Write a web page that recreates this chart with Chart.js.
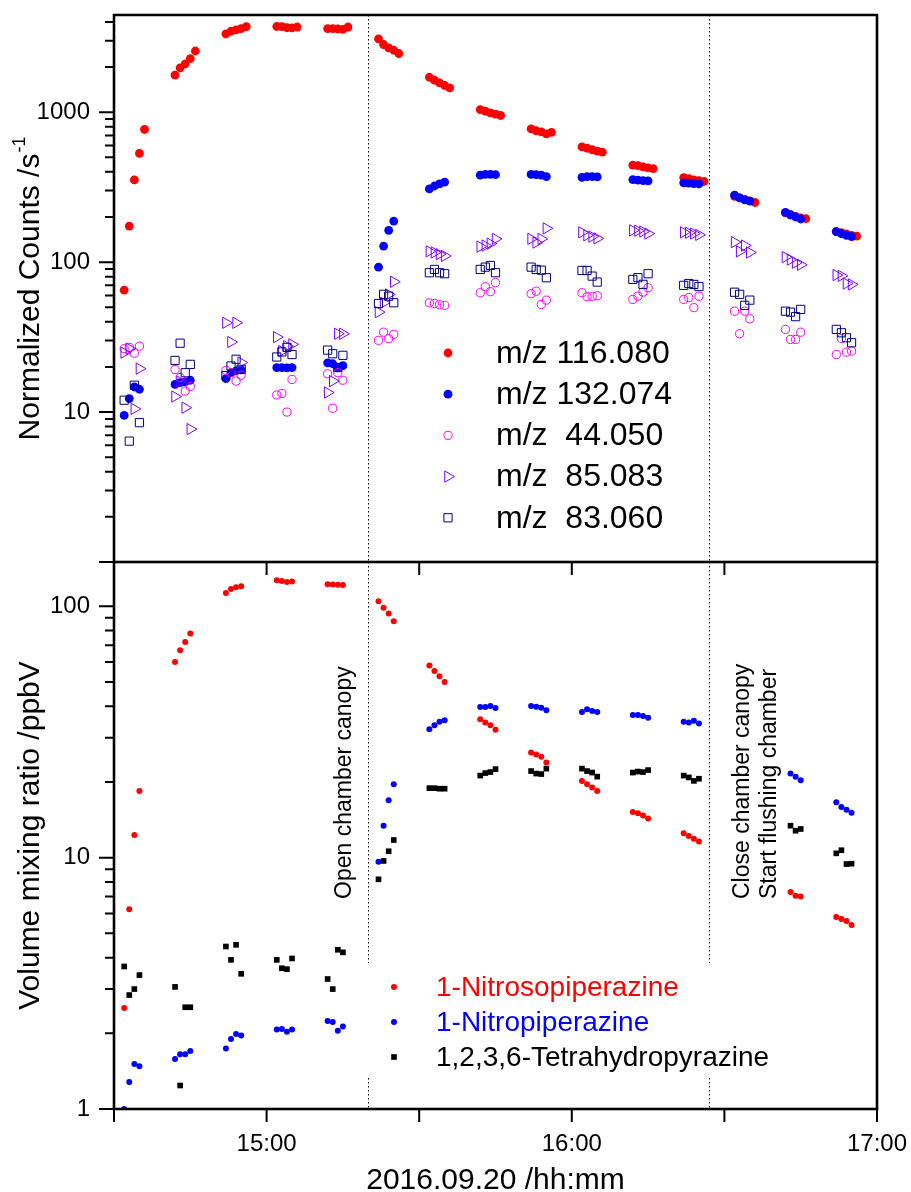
<!DOCTYPE html>
<html lang="en">
<head>
<meta charset="UTF-8">
<title>Chamber experiment 2016.09.20</title>
<style>
    body { margin: 0; background: #fff; }
    #wrap { position: relative; width: 911px; height: 1192px; }
    #wrap canvas { position: absolute; left: 0; top: 0; }
</style>
</head>
<body>
<div id="wrap">
    <canvas id="bottomChart" width="911" height="1192"></canvas>
    <canvas id="topChart" width="911" height="1192"></canvas>
</div>

<script src="https://cdn.jsdelivr.net/npm/chart.js"></script>
<script>
// ---- data ----
const timeStart = '14:30';
const timeEnd = '17:00';
const xTickTimes = ['14:30', '15:00', '15:30', '16:00', '16:30', '17:00'];
const xLabelTimes = ['15:00', '16:00', '17:00'];
const openCanopy = '15:20';
const closeCanopy = '16:27';

const topYLabels = [10, 100, 1000];
const bottomYLabels = [1, 10, 100];

// one reading per minute, each group starts at these times
const topGroupStarts = ['14:32', '14:42', '14:52', '15:02', '15:12', '15:22', '15:32', '15:42',
                        '15:52', '16:02', '16:12', '16:22', '16:32', '16:42', '16:52'];
const bottomGroupStarts = ['14:32', '14:42', '14:52', '15:02', '15:12', '15:22', '15:32', '15:42',
                           '15:52', '16:02', '16:12', '16:22', '16:43', '16:52'];

// top panel, normalized counts /s
const mz116 = [
    [65, 174, 354, 531, 767],
    [1766, 1977, 2103, 2280, 2560],
    [3334, 3467, 3542, 3615, 3727],
    [3730, 3720, 3660, 3650, 3700],
    [3615, 3615, 3590, 3570, 3700],
    [3087, 2828, 2687, 2590, 2463],
    [1711, 1634, 1570, 1507, 1454],
    [1042, 1015, 990, 970, 951],
    [775, 752, 740, 718, 733],
    [588, 575, 562, 550, 541],
    [443, 440, 432, 425, 420],
    [366, 360, 354, 349, 345],
    [275, 268, 262, 256, 250],
    [213, 207, 202, 197, 195],
    [160, 157, 154, 151, 149]
];
const mz132 = [
    [9.5, 12.3, 14.7, 14.2],
    [15.3, 15.7, 15.9, 16.3],
    [16.7, 18.3, 18.8, 19.1],
    [19.8, 19.8, 19.7, 19.8],
    [21.3, 21.0, 19.8, 20.4],
    [92.6, 128, 163, 188],
    [308, 322, 333, 342],
    [380, 385, 385, 383],
    [385, 383, 380, 372],
    [368, 372, 372, 370],
    [355, 352, 350, 348],
    [338, 336, 334, 333],
    [280, 268, 260, 255],
    [215, 207, 200, 194],
    [160, 155, 151, 148]
];
const mz44 = [
    [26.5, 27.0, 24.7, 27.5],
    [19.2, 17.0, 13.8, 14.8],
    [19.0, 18.3, 16.1, 17.6],
    [13.0, 13.3, 10.0, 16.5],
    [18.0, 10.6, 18.3, 16.3],
    [30.1, 34.1, 30.9, 33.0],
    [53.5, 53, 52, 51.5],
    [62.5, 68.5, 63.5, 73],
    [61.6, 64, 52.2, 55.8],
    [62.5, 58.8, 59.2, 59.7],
    [56.4, 59.3, 63.1, 67.5],
    [56.4, 58, 49.7, 59.3],
    [47.1, 33.3, 47.1, 41.9],
    [35.6, 30.5, 30.5, 34.1],
    [24.2, 31, 25.1, 25.5]
];
const mz85 = [
    [24.9, 26.5, 10.5, 19.5],
    [12.7, 16.0, 10.7, 7.7],
    [39.4, 29.3, 39.4, 21.4],
    [31.6, 25.5, 27.5, 28.3],
    [13.5, 16.1, 33.3, 33.3],
    [46.4, 53.6, 60.9, 74],
    [118, 116, 113, 110],
    [127, 129, 133, 143],
    [143, 135, 143, 168],
    [158, 151, 148, 144],
    [163, 162, 160, 155],
    [158, 157, 155, 152],
    [136, 118, 129, 116],
    [108, 104, 99, 96],
    [82, 81, 72, 71]
];
const mz83 = [
    [12.0, 6.4, 15.1, 8.5],
    [22.1, 28.8, 18.3, 20.8],
    [17.5, 20.3, 22.5, 19.3],
    [23.3, 25.2, 27.0, 24.2],
    [25.9, 24.5, 19.8, 23.9],
    [53, 61, 59.3, 53.6],
    [85, 89.4, 85, 83.7],
    [89.4, 92.6, 95, 85],
    [92.6, 89.4, 88.4, 78.7],
    [88, 88, 80.7, 73.6],
    [76.7, 78.8, 71.1, 83.7],
    [70, 72, 71, 68.7],
    [63, 61, 51.5, 55.8],
    [47.1, 46.4, 43.3, 48.4],
    [35.6, 33.8, 31.3, 29]
];

// bottom panel, ppbV
const nitrosopiperazine = [
    [2.52, 6.23, 12.3, 18.4],
    [60, 66.8, 72.1, 77.9],
    [113, 117, 119, 120],
    [127, 126, 125, 125.5],
    [122.3, 122, 121.8, 121.5],
    [104.6, 98.7, 93.5, 87.1],
    [58.1, 55.3, 52.7, 50],
    [35.5, 34.5, 33.6, 32.3],
    [26.2, 25.7, 25.2, 23.9],
    [20.2, 19.6, 19.0, 18.4],
    [15.2, 15.0, 14.7, 14.3],
    [12.5, 12.2, 11.9, 11.6],
    [7.3, 7.05, 7.0],
    [5.8, 5.7, 5.6, 5.4]
];
const nitropiperazine = [
    [1.0, 1.28, 1.51, 1.48],
    [1.58, 1.65, 1.65, 1.70],
    [1.74, 1.90, 1.99, 1.96],
    [2.07, 2.08, 2.03, 2.07],
    [2.24, 2.22, 2.05, 2.13],
    [9.63, 13.4, 16.9, 19.6],
    [32.4, 33.6, 34.7, 35.2],
    [39.7, 39.7, 40.1, 39.4],
    [40.1, 39.8, 39.5, 38.6],
    [38.0, 38.9, 38.3, 38.0],
    [36.9, 36.9, 36.6, 36.0],
    [34.7, 34.5, 35.0, 34.2],
    [21.6, 21.0, 20.3],
    [16.6, 15.9, 15.5, 15.1]
];
const tetrahydropyrazine = [
    [3.69, 2.84, 3.0, 3.41],
    [3.06, 1.24, 2.54, 2.54],
    [4.43, 3.92, 4.5, 3.45],
    [3.92, 3.63, 3.6, 3.97],
    [3.29, 3.0, 4.3, 4.2],
    [8.2, 9.7, 10.6, 11.75],
    [18.9, 18.9, 18.8, 18.8],
    [21.2, 21.7, 21.9, 22.5],
    [22.1, 21.6, 21.5, 22.6],
    [22.6, 22.1, 21.8, 21.0],
    [21.8, 22.0, 21.9, 22.3],
    [21.2, 20.85, 20.2, 20.6],
    [13.4, 12.8, 13.0],
    [10.4, 10.7, 9.43, 9.46]
];

const FONT = 'Arial, "Liberation Sans", sans-serif';

function toMinutes(hhmm) {
    const [h, m] = hhmm.split(':').map(Number);
    return h * 60 + m;
}
function toLabel(min) {
    const h = Math.floor(min / 60), m = min % 60;
    return h + ':' + String(m).padStart(2, '0');
}
function toPoints(starts, groups) {
    const pts = [];
    groups.forEach((g, i) => {
        const t0 = toMinutes(starts[i]);
        g.forEach((v, j) => pts.push({ x: t0 + j, y: v }));
    });
    return pts;
}

// fixed axis size, and no extra room for the end labels
function fixSize(prop, size) {
    return s => {
        s[prop] = size;
        s.paddingTop = 0;
        s.paddingBottom = 0;
        s.paddingLeft = 0;
        s.paddingRight = 0;
    };
}

// minor/major ticks on a log axis, pointing out to the left
function logTicks(ctx, scale, left) {
    ctx.lineWidth = 2;
    ctx.beginPath();
    for (let e = Math.floor(Math.log10(scale.min)); e <= Math.ceil(Math.log10(scale.max)); e++) {
        for (let k = 1; k <= 9; k++) {
            const v = k * Math.pow(10, e);
            if (v < scale.min * 0.999 || v > scale.max * 1.001) continue;
            const y = scale.getPixelForValue(v);
            ctx.moveTo(left, y);
            ctx.lineTo(left - (k === 1 ? 15 : 9), y);
        }
    }
    ctx.stroke();
}

function dottedLines(chart, y0, y1) {
    const { ctx, scales: { x } } = chart;
    ctx.save();
    ctx.strokeStyle = '#000';
    ctx.lineWidth = 1;
    ctx.setLineDash([1.5, 2.5]);
    [openCanopy, closeCanopy].forEach(t => {
        const px = Math.round(x.getPixelForValue(toMinutes(t))) + 0.5;
        ctx.beginPath();
        ctx.moveTo(px, y0);
        ctx.lineTo(px, y1);
        ctx.stroke();
    });
    ctx.restore();
}

function drawMarker(ctx, ds, x, y) {
    ctx.fillStyle = ds.backgroundColor;
    ctx.strokeStyle = ds.borderColor;
    ctx.lineWidth = ds.borderWidth;
    Chart.helpers.drawPoint(ctx, {
        pointStyle: ds.pointStyle, rotation: ds.rotation || 0,
        radius: ds.pointRadius, borderWidth: ds.borderWidth
    }, x, y);
}

const topDecor = {
    id: 'topDecor',
    beforeDatasetsDraw(chart) {
        dottedLines(chart, chart.chartArea.top, chart.chartArea.bottom);
    },
    afterDraw(chart) {
        const { ctx, chartArea: a, scales: { y } } = chart;
        ctx.save();
        ctx.strokeStyle = '#000';
        ctx.lineWidth = 2.6;
        ctx.beginPath();
        ctx.moveTo(a.left, a.bottom);
        ctx.lineTo(a.left, a.top);
        ctx.lineTo(a.right, a.top);
        ctx.lineTo(a.right, a.bottom);
        ctx.stroke();
        logTicks(ctx, y, a.left);

        // y title with superscript
        ctx.translate(39, (a.top + a.bottom) / 2);
        ctx.rotate(-Math.PI / 2);
        ctx.fillStyle = '#000';
        ctx.textBaseline = 'alphabetic';
        ctx.textAlign = 'left';
        const main = 'Normalized Counts /s', sup = '-1';
        ctx.font = '30px ' + FONT;
        const wMain = ctx.measureText(main).width;
        ctx.font = '18px ' + FONT;
        const wSup = ctx.measureText(sup).width;
        const x0 = -(wMain + wSup + 1) / 2;
        ctx.font = '30px ' + FONT;
        ctx.fillText(main, x0, 0);
        ctx.font = '18px ' + FONT;
        ctx.fillText(sup, x0 + wMain + 1, -14);
        ctx.restore();

        // legend
        ctx.save();
        chart.data.datasets.forEach((ds, i) => {
            const cy = 353 + i * 41.2;
            drawMarker(ctx, ds, 448, cy);
            ctx.fillStyle = '#000';
            ctx.font = '32px ' + FONT;
            ctx.textAlign = 'left';
            ctx.textBaseline = 'middle';
            ctx.fillText(ds.label, 496, cy + 1);
        });
        ctx.restore();
    }
};

const bottomDecor = {
    id: 'bottomDecor',
    beforeDatasetsDraw(chart) {
        dottedLines(chart, chart.chartArea.top, chart.chartArea.bottom);
    },
    afterDraw(chart) {
        const { ctx, chartArea: a, scales: { x, y } } = chart;
        ctx.save();
        // legend box hides the dotted lines
        ctx.fillStyle = '#fff';
        ctx.fillRect(363, 963, 440, 114);

        ctx.strokeStyle = '#000';
        ctx.lineWidth = 2.6;
        ctx.strokeRect(a.left, a.top, a.right - a.left, a.bottom - a.top);
        logTicks(ctx, y, a.left);
        ctx.beginPath();
        xTickTimes.forEach(t => {
            const px = x.getPixelForValue(toMinutes(t));
            ctx.moveTo(px, a.bottom);
            ctx.lineTo(px, a.bottom + 13);
            ctx.moveTo(px, a.top);
            ctx.lineTo(px, a.top + 13);
        });
        ctx.stroke();

        ctx.fillStyle = '#000';
        ctx.textBaseline = 'alphabetic';

        // x title
        ctx.font = '30px ' + FONT;
        ctx.textAlign = 'center';
        ctx.fillText('2016.09.20 /hh:mm', (a.left + a.right) / 2, 1189);

        // y title
        ctx.save();
        ctx.translate(39, (a.top + a.bottom) / 2);
        ctx.rotate(-Math.PI / 2);
        ctx.fillText('Volume mixing ratio /ppbV', 0, 0);
        ctx.restore();

        // event notes
        ctx.font = '23px ' + FONT;
        ctx.textAlign = 'left';
        const notes = [
            ['Open chamber canopy', openCanopy, -17],
            ['Close chamber canopy', closeCanopy, 39.5],
            ['Start flushing chamber', closeCanopy, 66.5]
        ];
        notes.forEach(([text, t, dx]) => {
            ctx.save();
            ctx.translate(x.getPixelForValue(toMinutes(t)) + dx, 899);
            ctx.rotate(-Math.PI / 2);
            ctx.fillText(text, 0, 0);
            ctx.restore();
        });

        // legend
        chart.data.datasets.forEach((ds, i) => {
            const cy = 987 + i * 35;
            drawMarker(ctx, ds, 394, cy);
            ctx.fillStyle = ds.textColor;
            ctx.font = '28px ' + FONT;
            ctx.textAlign = 'left';
            ctx.textBaseline = 'middle';
            ctx.fillText(ds.label, 436, cy + 1);
        });
        ctx.restore();
    }
};

const xRange = { type: 'linear', min: toMinutes(timeStart), max: toMinutes(timeEnd), bounds: 'data' };

new Chart(document.getElementById('topChart'), {
    type: 'scatter',
    data: {
        datasets: [
            { label: 'm/z 116.080', data: toPoints(topGroupStarts, mz116), pointStyle: 'circle', pointRadius: 4.4,
              backgroundColor: '#ff0000', borderColor: '#ff0000', borderWidth: 0, order: 5 },
            { label: 'm/z 132.074', data: toPoints(topGroupStarts, mz132), pointStyle: 'circle', pointRadius: 4.4,
              backgroundColor: '#0000ff', borderColor: '#0000ff', borderWidth: 0, order: 4 },
            { label: 'm/z  44.050', data: toPoints(topGroupStarts, mz44), pointStyle: 'circle', pointRadius: 4.1,
              backgroundColor: 'rgba(0,0,0,0)', borderColor: '#ff00ff', borderWidth: 1, order: 3 },
            { label: 'm/z  85.083', data: toPoints(topGroupStarts, mz85), pointStyle: 'triangle', rotation: 90, pointRadius: 6.5,
              backgroundColor: 'rgba(0,0,0,0)', borderColor: '#8000ff', borderWidth: 1, order: 2 },
            { label: 'm/z  83.060', data: toPoints(topGroupStarts, mz83), pointStyle: 'rect', pointRadius: 5.8,
              backgroundColor: 'rgba(0,0,0,0)', borderColor: '#000080', borderWidth: 1, order: 1 }
        ]
    },
    options: {
        responsive: false,
        animation: false,
        events: [],
        layout: { autoPadding: false, padding: { left: 0, top: 15, right: 34, bottom: 630 } },
        plugins: { legend: { display: false }, tooltip: { enabled: false } },
        scales: {
            x: Object.assign({ display: false }, xRange),
            y: {
                type: 'logarithmic', min: 1, max: 4450, bounds: 'data',
                afterFit: fixSize('width', 114),
                afterBuildTicks: s => { s.ticks = topYLabels.map(v => ({ value: v })); },
                grid: { display: false, drawTicks: false },
                border: { display: false },
                ticks: { font: { family: FONT, size: 24 }, color: '#000', padding: 24, callback: v => String(v) }
            }
        }
    },
    plugins: [topDecor]
});

new Chart(document.getElementById('bottomChart'), {
    type: 'scatter',
    data: {
        datasets: [
            { label: '1-Nitrosopiperazine', data: toPoints(bottomGroupStarts, nitrosopiperazine), pointStyle: 'circle', pointRadius: 3,
              backgroundColor: '#ff0000', borderColor: '#ff0000', borderWidth: 0, textColor: '#ff0000', order: 3 },
            { label: '1-Nitropiperazine', data: toPoints(bottomGroupStarts, nitropiperazine), pointStyle: 'circle', pointRadius: 3,
              backgroundColor: '#0000ff', borderColor: '#0000ff', borderWidth: 0, textColor: '#0000ff', order: 2 },
            { label: '1,2,3,6-Tetrahydropyrazine', data: toPoints(bottomGroupStarts, tetrahydropyrazine), pointStyle: 'rect', pointRadius: 4,
              backgroundColor: '#000000', borderColor: '#000000', borderWidth: 0, textColor: '#000000', order: 1 }
        ]
    },
    options: {
        responsive: false,
        animation: false,
        events: [],
        layout: { autoPadding: false, padding: { left: 0, top: 562, right: 34, bottom: 0 } },
        plugins: { legend: { display: false }, tooltip: { enabled: false } },
        scales: {
            x: Object.assign({
                position: 'bottom',
                afterFit: fixSize('height', 83),
                afterBuildTicks: s => { s.ticks = xLabelTimes.map(t => ({ value: toMinutes(t) })); },
                grid: { display: false, drawTicks: false },
                border: { display: false },
                ticks: { font: { family: FONT, size: 24 }, color: '#000', padding: 21, maxRotation: 0, autoSkip: false,
                         callback: v => toLabel(v) }
            }, xRange),
            y: {
                type: 'logarithmic', min: 1, max: 150, bounds: 'data',
                afterFit: fixSize('width', 114),
                afterBuildTicks: s => { s.ticks = bottomYLabels.map(v => ({ value: v })); },
                grid: { display: false, drawTicks: false },
                border: { display: false },
                ticks: { font: { family: FONT, size: 24 }, color: '#000', padding: 24, callback: v => String(v) }
            }
        }
    },
    plugins: [bottomDecor]
});
</script>
</body>
</html>
